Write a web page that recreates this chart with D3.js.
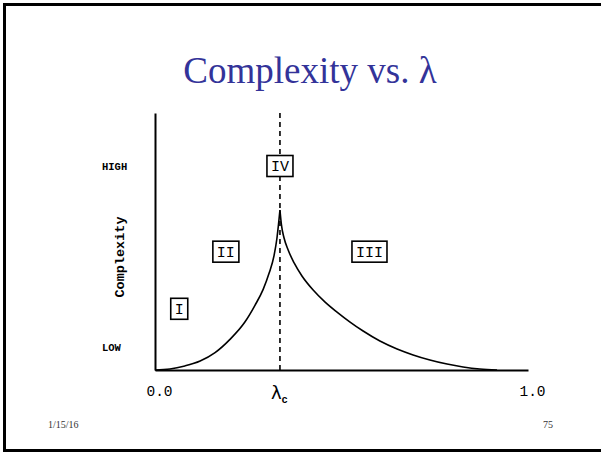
<!DOCTYPE html>
<html>
<head>
<meta charset="utf-8">
<script src="https://cdn.jsdelivr.net/npm/d3@7"></script>
<style>
  html, body { margin: 0; padding: 0; background: #fff; }
  svg { display: block; }
</style>
</head>
<body>
<svg id="chart" width="601" height="452"></svg>
<script>
// Complexity as a function of lambda: rises to a cusp at lambda_c, then decays.
const lambdaC = 0.335;
const leftBranch = [
  [0.000, 0.000], [0.040, 0.005], [0.080, 0.020], [0.121, 0.044],
  [0.161, 0.085], [0.201, 0.150], [0.241, 0.235], [0.268, 0.317],
  [0.290, 0.395], [0.306, 0.475], [0.319, 0.559], [0.327, 0.647],
  [0.331, 0.711], [0.335, 0.784]
];
const rightBranch = [
  [0.335, 0.784], [0.339, 0.711], [0.346, 0.647], [0.357, 0.588],
  [0.373, 0.525], [0.394, 0.461], [0.424, 0.392], [0.456, 0.333],
  [0.488, 0.284], [0.523, 0.235], [0.558, 0.191], [0.603, 0.142],
  [0.649, 0.103], [0.692, 0.074], [0.737, 0.049], [0.783, 0.029],
  [0.826, 0.015], [0.871, 0.005], [0.917, 0.000]
];
const xTickValues = [0, 1];
const xTickLabels = ["0.0", "1.0"];
const yTickValues = [0.113, 1.0];
const yTickLabels = ["LOW", "HIGH"];
const regionNames = ["I", "II", "III", "IV"];
const regionX = [0.065, 0.19, 0.575, 0.335];
const regionY = [0.30, 0.58, 0.58, 1.0];

const svg = d3.select("#chart");

// slide frame
svg.append("rect")
  .attr("x", 4.5).attr("y", 4.5)
  .attr("width", 700).attr("height", 446)
  .attr("fill", "none").attr("stroke", "#000").attr("stroke-width", 3);

// title
svg.append("text")
  .attr("x", 310).attr("y", 83)
  .attr("text-anchor", "middle")
  .attr("font-family", "'Liberation Serif', 'Times New Roman', serif")
  .attr("font-size", 37)
  .attr("fill", "#333399")
  .text("Complexity vs. λ");

const x = d3.scaleLinear().domain([0, 1]).range([155, 528]);
const y = d3.scaleLinear().domain([0, 1]).range([370, 166]);
const yTop = 113;

const mono = "'Liberation Mono', 'Courier New', monospace";

// x axis
const xAxis = d3.axisBottom(x)
  .tickValues(xTickValues)
  .tickSize(0)
  .tickPadding(16)
  .tickFormat((d, i) => xTickLabels[i]);
const gx = svg.append("g").attr("transform", `translate(0,${y(0)})`).call(xAxis);
gx.select(".domain").attr("stroke", "#000").attr("stroke-width", 2);
gx.selectAll("text")
  .attr("font-family", mono).attr("font-size", 14.5).attr("fill", "#000")
  .attr("dx", 4);

// y axis line
const yAxis = d3.axisLeft(d3.scaleLinear().domain([0, 1]).range([y(0), yTop]))
  .tickValues([]).tickSize(0);
const gy = svg.append("g").attr("transform", `translate(${x(0)},0)`).call(yAxis);
gy.select(".domain").attr("stroke", "#000").attr("stroke-width", 2);

// y level labels
svg.selectAll("text.ylab")
  .data(yTickValues)
  .join("text")
  .attr("class", "ylab")
  .attr("x", 102)
  .attr("y", d => y(d) + 4)
  .attr("font-family", mono)
  .attr("font-weight", "bold")
  .attr("font-size", 10.5)
  .attr("fill", "#000")
  .text((d, i) => yTickLabels[i]);

// y axis title
svg.append("text")
  .attr("transform", `translate(124,${y(0.554)}) rotate(-90)`)
  .attr("text-anchor", "middle")
  .attr("font-family", mono)
  .attr("font-weight", "bold")
  .attr("font-size", 13.5)
  .attr("fill", "#000")
  .text("Complexity");

// critical lambda
svg.append("line")
  .attr("x1", x(lambdaC)).attr("x2", x(lambdaC))
  .attr("y1", yTop).attr("y2", y(0))
  .attr("stroke", "#000").attr("stroke-width", 1.6)
  .attr("stroke-dasharray", "5,4");

const lc = svg.append("text")
  .attr("x", x(lambdaC) - 9).attr("y", 399)
  .attr("font-family", "'DejaVu Sans', sans-serif")
  .attr("font-size", 18)
  .attr("fill", "#000");
lc.append("tspan").text("λ");
lc.append("tspan").attr("dy", 4).attr("font-size", 10.5)
  .attr("font-family", mono).attr("font-weight", "bold").text("c");

// complexity curve
const line = d3.line()
  .x(d => x(d[0])).y(d => y(d[1]))
  .curve(d3.curveMonotoneX);
[leftBranch, rightBranch].forEach(b => {
  svg.append("path")
    .datum(b)
    .attr("d", line)
    .attr("fill", "none")
    .attr("stroke", "#000")
    .attr("stroke-width", 1.6);
});

// regime labels
const regions = svg.selectAll("g.region")
  .data(regionNames)
  .join("g")
  .attr("class", "region")
  .attr("transform", (d, i) => `translate(${x(regionX[i])},${y(regionY[i])})`);
regions.append("text")
  .attr("text-anchor", "middle")
  .attr("dy", "0.36em")
  .attr("font-family", mono)
  .attr("font-size", 15)
  .attr("fill", "#000")
  .text(d => d);
regions.each(function () {
  const g = d3.select(this);
  const bb = g.select("text").node().getBBox();
  g.insert("rect", "text")
    .attr("x", bb.x - 4).attr("y", -10.5)
    .attr("width", bb.width + 8).attr("height", 21)
    .attr("fill", "#fff")
    .attr("stroke", "#000").attr("stroke-width", 1.6);
});

// footer
const serif = "'Liberation Serif', 'Times New Roman', serif";
svg.append("text").attr("x", 48).attr("y", 428)
  .attr("font-family", serif).attr("font-size", 10).attr("fill", "#333")
  .text("1/15/16");
svg.append("text").attr("x", 543).attr("y", 428)
  .attr("font-family", serif).attr("font-size", 10).attr("fill", "#333")
  .text("75");
</script>
</body>
</html>
